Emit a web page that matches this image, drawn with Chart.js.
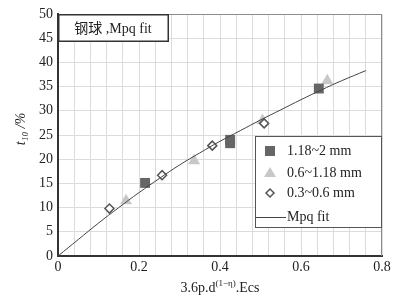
<!DOCTYPE html>
<html>
<head>
<meta charset="utf-8">
<script src="https://cdn.jsdelivr.net/npm/chart.js@4.4.0/dist/chart.umd.min.js"></script>
<style>
  html, body { margin: 0; padding: 0; background: #fff; }
  #wrap { width: 416px; height: 296px; }
</style>
</head>
<body>
<div id="wrap"><canvas id="chart" width="416" height="296"></canvas></div>
<script>
// datos
const coarseX = [0.215, 0.425, 0.425, 0.644];
const coarseY = [15.1, 23.3, 24.0, 34.6];
const mediumX = [0.168, 0.336, 0.505, 0.665];
const mediumY = [11.4, 19.7, 28.0, 36.2];
const fineX = [0.127, 0.257, 0.381, 0.509];
const fineY = [9.8, 16.7, 22.8, 27.4];
const fitX = [0, 0.05, 0.1, 0.15, 0.2, 0.25, 0.3, 0.35, 0.4, 0.45, 0.5, 0.55, 0.6, 0.65, 0.7, 0.76];
const fitY = [0, 3.4, 6.8, 10.0, 13.1, 16.0, 18.8, 21.3, 23.7, 25.9, 28.1, 30.2, 32.3, 34.3, 36.2, 38.3];
const xTickLabels = ['0', '0.2', '0.4', '0.6', '0.8'];
const legendLabels = ['1.18~2 mm', '0.6~1.18 mm', '0.3~0.6 mm', 'Mpq fit'];

const serif = '"Liberation Serif", "Times New Roman", serif';
const pts = (xs, ys) => xs.map((x, i) => ({ x: x, y: ys[i] }));

// Dibuja bordes, recuadro del título, leyenda y títulos de ejes
const decor = {
    id: 'decor',
    afterDraw(chart) {
        const c = chart.ctx;
        const a = chart.chartArea;
        c.save();
        // borde superior y derecho
        c.strokeStyle = '#8c8c8c';
        c.lineWidth = 1;
        c.beginPath();
        c.moveTo(a.left, a.top + 0.5);
        c.lineTo(a.right - 0.5, a.top + 0.5);
        c.lineTo(a.right - 0.5, a.bottom);
        c.stroke();

        // recuadro del título
        c.fillStyle = '#fff';
        c.fillRect(a.left, a.top, 110, 27);
        c.strokeStyle = '#333';
        c.lineWidth = 1.5;
        c.strokeRect(a.left + 0.75, a.top + 0.75, 109.5, 26.5);
        c.fillStyle = '#222';
        c.font = '14px "Liberation Serif", "Noto Sans CJK SC", serif';
        c.textAlign = 'center';
        c.textBaseline = 'middle';
        c.fillText('钢球 ,Mpq fit', a.left + 55, a.top + 15);

        // leyenda
        const lx = 255, ly = 136, lw = a.right - 255, lh = 91;
        c.fillStyle = '#fff';
        c.fillRect(lx, ly, lw, lh);
        c.strokeStyle = '#555';
        c.lineWidth = 1;
        c.strokeRect(lx + 0.5, ly + 0.5, lw - 1, lh);
        const rows = [151, 173, 193, 217];
        c.font = '14px ' + serif;
        c.textAlign = 'left';
        c.fillStyle = '#222';
        legendLabels.forEach((t, i) => c.fillText(t, 287, rows[i]));
        // marcadores
        c.fillStyle = '#666';
        c.fillRect(265, rows[0] - 5, 10, 10);
        c.fillStyle = '#c8c8c8';
        c.beginPath();
        c.moveTo(270, rows[1] - 6);
        c.lineTo(276, rows[1] + 4);
        c.lineTo(264, rows[1] + 4);
        c.closePath();
        c.fill();
        c.strokeStyle = '#555';
        c.lineWidth = 1.5;
        c.beginPath();
        c.moveTo(270, rows[2] - 4);
        c.lineTo(274, rows[2]);
        c.lineTo(270, rows[2] + 4);
        c.lineTo(266, rows[2]);
        c.closePath();
        c.stroke();
        c.strokeStyle = '#444';
        c.lineWidth = 1;
        c.beginPath();
        c.moveTo(256, rows[3] + 0.5);
        c.lineTo(286, rows[3] + 0.5);
        c.stroke();

        // título eje x con superíndice
        c.fillStyle = '#222';
        c.textBaseline = 'alphabetic';
        const p1 = '3.6p.d', p2 = '(1\u2212\u03b7)', p3 = '.Ecs';
        c.font = '14px ' + serif;
        const w1 = c.measureText(p1).width, w3 = c.measureText(p3).width;
        c.font = '9px ' + serif;
        const w2 = c.measureText(p2).width;
        let x0 = 220 - (w1 + w2 + w3) / 2;
        const yb = 292;
        c.font = '14px ' + serif;
        c.fillText(p1, x0, yb);
        c.font = '9px ' + serif;
        c.fillText(p2, x0 + w1, yb - 6);
        c.font = '14px ' + serif;
        c.fillText(p3, x0 + w1 + w2, yb);

        // título eje y
        c.translate(21, 129);
        c.rotate(-Math.PI / 2);
        c.textAlign = 'center';
        c.textBaseline = 'middle';
        c.font = 'italic 14px ' + serif;
        c.fillText('t\u2081\u2080 /%', 0, 0);
        c.restore();
    }
};

const ctx = document.getElementById('chart').getContext('2d');
new Chart(ctx, {
    type: 'scatter',
    data: {
        datasets: [
            {
                label: legendLabels[3],
                type: 'line',
                data: pts(fitX, fitY),
                borderColor: '#444',
                borderWidth: 1,
                pointRadius: 0,
                tension: 0.4,
                fill: false
            },
            {
                label: legendLabels[2],
                data: pts(fineX, fineY),
                pointStyle: 'rectRot',
                pointRadius: 4.5,
                backgroundColor: '#fff',
                borderColor: '#555',
                borderWidth: 1.5
            },
            {
                label: legendLabels[0],
                data: pts(coarseX, coarseY),
                pointStyle: 'rect',
                pointRadius: 7,
                backgroundColor: '#666',
                borderColor: '#666',
                borderWidth: 0
            },
            {
                label: legendLabels[1],
                data: pts(mediumX, mediumY),
                pointStyle: 'triangle',
                pointRadius: 7,
                backgroundColor: '#c8c8c8',
                borderColor: '#c8c8c8',
                borderWidth: 0
            }
        ]
    },
    options: {
        responsive: false,
        animation: false,
        layout: { padding: { left: 0, right: 34, top: 14, bottom: 0 } },
        plugins: {
            legend: { display: false },
            tooltip: { enabled: false }
        },
        scales: {
            x: {
                type: 'linear',
                min: 0,
                max: 0.8,
                afterFit: s => { s.height = 40; },
                afterBuildTicks: s => {
                    s.ticks = [];
                    for (let i = 0; i <= 20; i++) s.ticks.push({ value: i * 0.04 });
                },
                ticks: {
                    autoSkip: false,
                    maxRotation: 0,
                    padding: 3,
                    color: '#222',
                    font: { family: serif, size: 14 },
                    callback: (v, i) => (i % 5 === 0 ? xTickLabels[i / 5] : '')
                },
                grid: { color: '#dcdcdc', drawTicks: false },
                border: { color: '#333', width: 2 }
            },
            y: {
                min: 0,
                max: 50,
                afterFit: s => { s.width = 58; },
                ticks: {
                    stepSize: 5,
                    padding: 5,
                    color: '#222',
                    font: { family: serif, size: 14 }
                },
                grid: { color: '#dcdcdc', drawTicks: false },
                border: { color: '#333', width: 2 }
            }
        }
    },
    plugins: [decor]
});
</script>
</body>
</html>
